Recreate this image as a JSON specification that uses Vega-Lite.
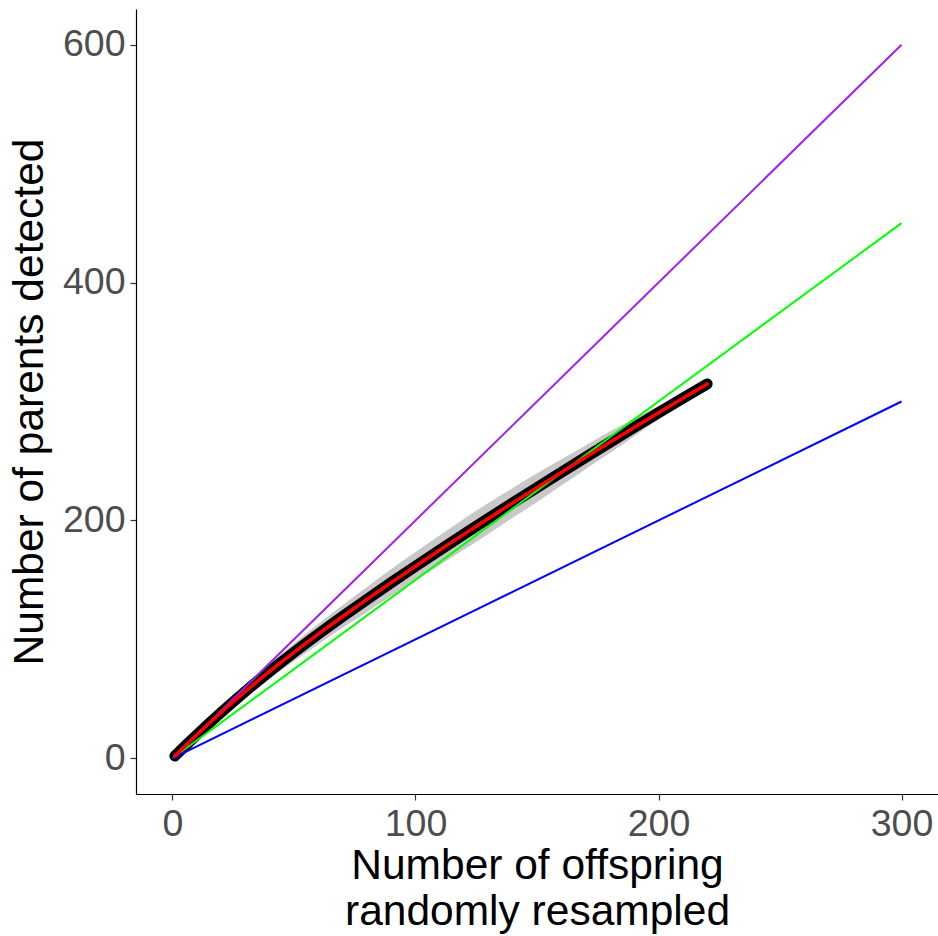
{
  "$schema": "https://vega.github.io/schema/vega-lite/v6.json",
  "width": 802,
  "height": 785,
  "autosize": {"type": "none"},
  "padding": {"left": 136, "top": 9, "right": 0, "bottom": 142},
  "background": "white",
  "config": {
    "view": {"stroke": null},
    "font": "Liberation Sans",
    "axis": {
      "grid": false,
      "domainColor": "black",
      "domainWidth": 1.2,
      "tickColor": "#333333",
      "tickWidth": 1.2,
      "tickSize": 6,
      "labelFont": "Liberation Sans",
      "labelFontSize": 37.5,
      "labelColor": "#4D4D4D",
      "labelPadding": 5,
      "titleFont": "Liberation Sans",
      "titleFontSize": 42.5,
      "titleFontWeight": "normal",
      "titleColor": "black"
    }
  },
  "datasets": {
    "curve": [
      {"x": 1, "y": 2, "lo": 2, "hi": 2},
      {"x": 5, "y": 9.9, "lo": 9.2, "hi": 10.6},
      {"x": 10, "y": 19.7, "lo": 18.2, "hi": 21.2},
      {"x": 20, "y": 38.5, "lo": 35.5, "hi": 41.5},
      {"x": 30, "y": 56.3, "lo": 51.8, "hi": 60.8},
      {"x": 40, "y": 73.1, "lo": 67.1, "hi": 79.1},
      {"x": 50, "y": 89.1, "lo": 81.6, "hi": 96.6},
      {"x": 60, "y": 104.4, "lo": 95.9, "hi": 112.9},
      {"x": 70, "y": 119.2, "lo": 109.7, "hi": 128.7},
      {"x": 80, "y": 133.6, "lo": 123.1, "hi": 144.1},
      {"x": 90, "y": 147.7, "lo": 136.2, "hi": 159.2},
      {"x": 100, "y": 161.5, "lo": 149.5, "hi": 173.5},
      {"x": 110, "y": 175.1, "lo": 162.6, "hi": 187.6},
      {"x": 120, "y": 188.5, "lo": 175.5, "hi": 201.5},
      {"x": 130, "y": 201.7, "lo": 188.7, "hi": 214.7},
      {"x": 140, "y": 214.7, "lo": 202.2, "hi": 227.2},
      {"x": 150, "y": 227.6, "lo": 215.6, "hi": 239.6},
      {"x": 160, "y": 240.4, "lo": 229.4, "hi": 251.4},
      {"x": 170, "y": 253.1, "lo": 243.1, "hi": 263.1},
      {"x": 180, "y": 265.7, "lo": 256.7, "hi": 274.7},
      {"x": 190, "y": 278.2, "lo": 270.7, "hi": 285.7},
      {"x": 200, "y": 290.5, "lo": 285, "hi": 296},
      {"x": 210, "y": 302.7, "lo": 299.2, "hi": 306.2},
      {"x": 220, "y": 314.8, "lo": 313.3, "hi": 316.3}
    ],
    "refs": [
      {"x": 0, "y": 0, "series": "purple"},
      {"x": 300, "y": 600, "series": "purple"},
      {"x": 0, "y": 0, "series": "green"},
      {"x": 300, "y": 450, "series": "green"},
      {"x": 0, "y": 0, "series": "blue"},
      {"x": 300, "y": 300, "series": "blue"}
    ]
  },
  "layer": [
    {
      "data": {"name": "curve"},
      "mark": {"type": "area", "color": "#C8C8C8", "opacity": 1, "interpolate": "monotone"},
      "encoding": {
        "x": {"field": "x", "type": "quantitative", "scale": {"domain": [-15, 315], "nice": false, "zero": false}, "axis": {"values": [0, 100, 200, 300], "title": ["Number of offspring", "randomly resampled"], "titlePadding": 2, "titleLineHeight": 46}},
        "y": {"field": "lo", "type": "quantitative", "scale": {"domain": [-30, 630], "nice": false, "zero": false}, "axis": {"values": [0, 200, 400, 600], "title": "Number of parents detected", "titlePadding": 11}},
        "y2": {"field": "hi"}
      }
    },
    {
      "data": {"name": "curve"},
      "mark": {"type": "line", "color": "black", "strokeWidth": 11, "strokeCap": "round", "strokeJoin": "round", "interpolate": "monotone"},
      "encoding": {
        "x": {"field": "x", "type": "quantitative"},
        "y": {"field": "y", "type": "quantitative"}
      }
    },
    {
      "data": {"name": "refs"},
      "mark": {"type": "line", "strokeWidth": 2},
      "encoding": {
        "x": {"field": "x", "type": "quantitative"},
        "y": {"field": "y", "type": "quantitative"},
        "detail": {"field": "series"},
        "color": {"field": "series", "type": "nominal", "scale": {"domain": ["purple", "green", "blue"], "range": ["#A020F0", "#00FF00", "#0000FF"]}, "legend": null}
      }
    },
    {
      "data": {"name": "curve"},
      "mark": {"type": "line", "color": "red", "strokeWidth": 3.5, "strokeCap": "round", "interpolate": "monotone"},
      "encoding": {
        "x": {"field": "x", "type": "quantitative"},
        "y": {"field": "y", "type": "quantitative"}
      }
    }
  ]
}
